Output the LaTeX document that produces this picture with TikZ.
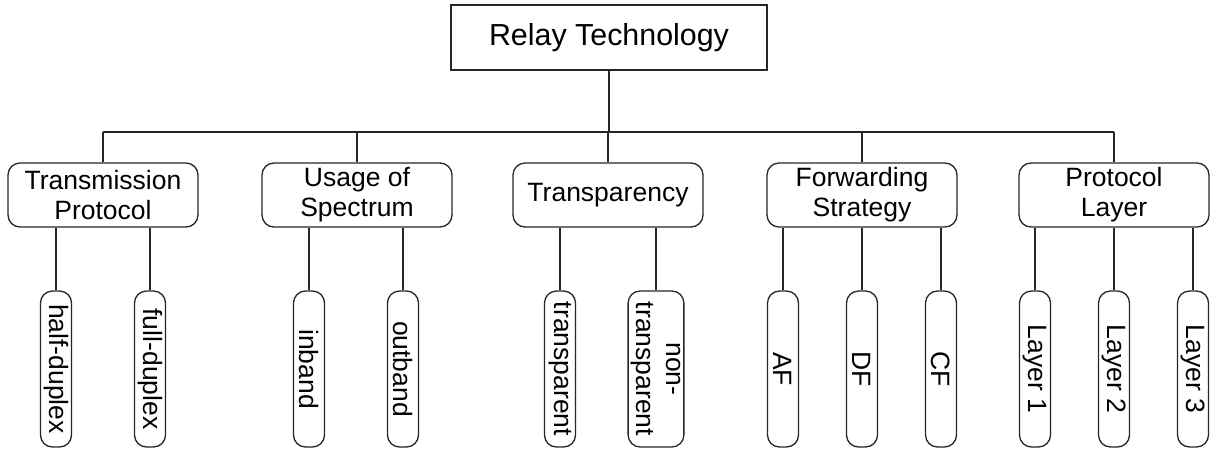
\documentclass[tikz,border=0pt]{standalone}
\usepackage{fontspec}
\setmainfont{Liberation Sans}
\begin{document}
\begin{tikzpicture}[x=1pt,y=-1pt,line width=1.3pt,draw=black!85,
    every node/.style={draw=black!85,font=\fontsize{26.5}{30}\selectfont,align=center},
    rootbox/.style={minimum width=316pt,minimum height=65pt,font=\fontsize{30.4}{34}\selectfont},
    cat/.style={rounded corners=12pt,minimum width=190pt,minimum height=64pt,inner sep=2pt},
    leaf/.style={rounded corners=12pt,rotate=-90,minimum width=156pt,minimum height=31pt,inner sep=3pt}]
            \useasboundingbox (0,0) rectangle (1210,448);
            \node[rootbox] (rt) at (609,37.5) {Relay Technology};
            \node[cat] (tp) at (103,195) {Transmission\\Protocol};
            \node[cat] (us) at (357,195) {Usage of\\Spectrum};
            \node[cat] (tr) at (608,195) {Transparency};
            \node[cat] (fs) at (862,195) {Forwarding\\Strategy};
            \node[cat] (pl) at (1114,195) {Protocol\\Layer};
            \coordinate (bus) at (0,132);
            \draw (rt) -- (rt |- bus);
            \draw (tp |- bus) -- (pl |- bus);
            \draw (tp |- bus) -- (tp);
            \draw (us |- bus) -- (us);
            \draw (tr |- bus) -- (tr);
            \draw (fs |- bus) -- (fs);
            \draw (pl |- bus) -- (pl);
            \node[leaf] (hd) at (56,369) {half-duplex};
            \node[leaf] (fd) at (150,369) {full-duplex};
            \node[leaf] (ib) at (309,369) {inband};
            \node[leaf] (ob) at (403,369) {outband};
            \node[leaf] (ts) at (560,369) {transparent};
            \node[leaf] (nt) at (656,369) {non-\\transparent};
            \node[leaf] (af) at (783,369) {AF};
            \node[leaf] (df) at (862,369) {DF};
            \node[leaf] (cf) at (941,369) {CF};
            \node[leaf] (l1) at (1035,369) {Layer 1};
            \node[leaf] (l2) at (1114,369) {Layer 2};
            \node[leaf] (l3) at (1193,369) {Layer 3};
            \draw (hd) -- (hd |- tp.south);
            \draw (fd) -- (fd |- tp.south);
            \draw (ib) -- (ib |- us.south);
            \draw (ob) -- (ob |- us.south);
            \draw (ts) -- (ts |- tr.south);
            \draw (nt) -- (nt |- tr.south);
            \draw (af) -- (af |- fs.south);
            \draw (df) -- (df |- fs.south);
            \draw (cf) -- (cf |- fs.south);
            \draw (l1) -- (l1 |- pl.south);
            \draw (l2) -- (l2 |- pl.south);
            \draw (l3) -- (l3 |- pl.south);
        \end{tikzpicture}
\end{document}
